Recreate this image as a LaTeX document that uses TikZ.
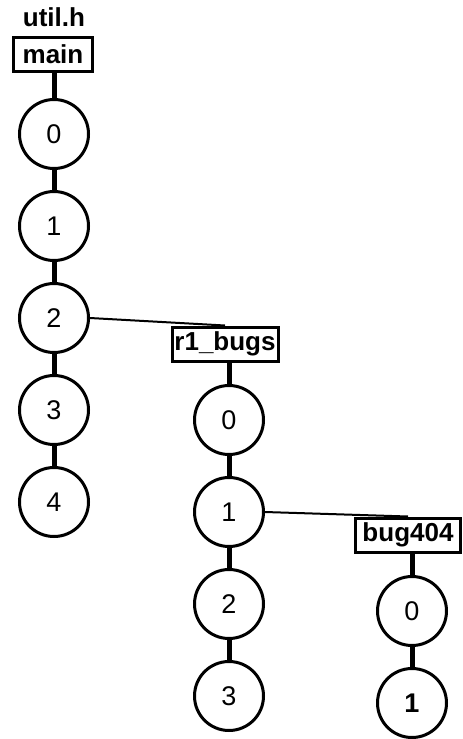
\documentclass[tikz,border=0pt]{standalone}
\usepackage{fontspec}
\setmainfont{Liberation Sans}
\begin{document}
\begin{tikzpicture}[x=1pt,y=-1pt,
  commit/.style={circle,draw,line width=3pt,minimum size=69pt,inner sep=0pt,font=\fontsize{27}{31}\selectfont},
  branch/.style={draw,line width=3pt,minimum height=34pt,inner sep=0pt,font=\fontsize{26}{30}\selectfont\bfseries},
  stem/.style={line width=5pt},
  fork/.style={line width=2pt}]
\useasboundingbox (0,0) rectangle (463,739);
\node[font=\fontsize{26}{30}\selectfont\bfseries] (lbl) at (54,17) {util.h};
\node[branch,minimum width=79pt] (main) at (53,54) {main};
\node[commit] (m0) at (54,134) {0};
\node[commit] (m1) at (54,226) {1};
\node[commit] (m2) at (54,318) {2};
\node[commit] (m3) at (54,410) {3};
\node[commit] (m4) at (54,502) {4};
\node[branch,minimum width=106pt] (r1) at (225,344) {r1\_bugs};
\node[commit] (r0) at (229,420) {0};
\node[commit] (rA) at (229,512) {1};
\node[commit] (rB) at (229,604) {2};
\node[commit] (rC) at (229,696) {3};
\node[branch,minimum width=105pt] (bug) at (408,535) {bug404};
\node[commit] (b0) at (412,611) {0};
\node[commit,font=\fontsize{27}{31}\selectfont\bfseries] (b1) at (412,703) {1};
\draw[stem] (main.south -| m0) -- (m0.north);
\draw[stem] (m0) -- (m1);
\draw[stem] (m1) -- (m2);
\draw[stem] (m2) -- (m3);
\draw[stem] (m3) -- (m4);
\draw[fork] (m2.east) -- (r1.north);
\draw[stem] (r1.south -| r0) -- (r0.north);
\draw[stem] (r0) -- (rA);
\draw[stem] (rA) -- (rB);
\draw[stem] (rB) -- (rC);
\draw[fork] (rA.east) -- (bug.north);
\draw[stem] (bug.south -| b0) -- (b0.north);
\draw[stem] (b0) -- (b1);
\end{tikzpicture}
\end{document}
